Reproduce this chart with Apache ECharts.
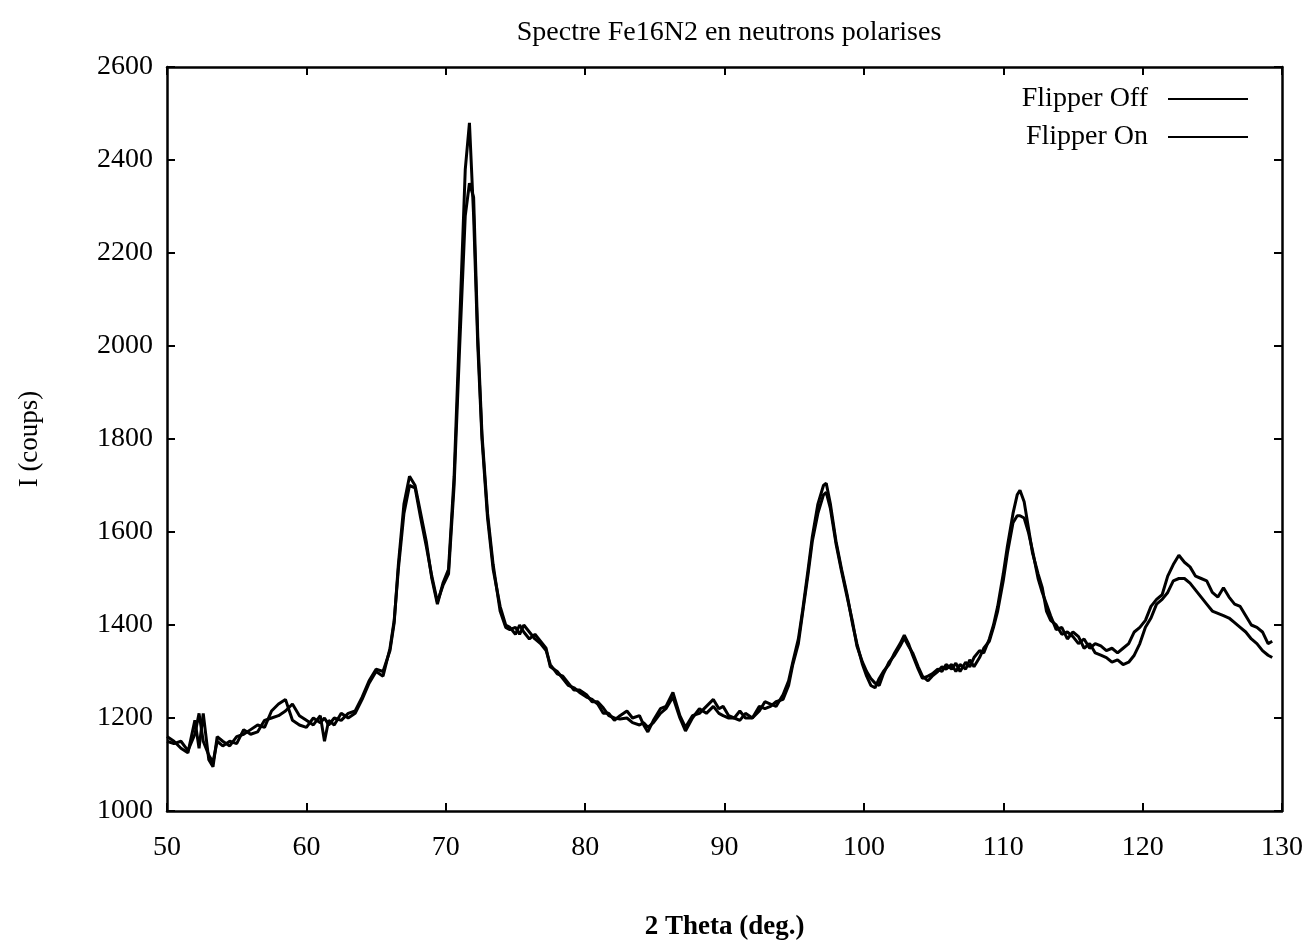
<!DOCTYPE html>
<html>
<head>
<meta charset="utf-8">
<script src="https://cdn.jsdelivr.net/npm/echarts@6/dist/echarts.min.js"></script>
<style>
html,body{margin:0;padding:0;background:#fff;}
#chart{width:1306px;height:941px;}
</style>
</head>
<body>
<div id="chart"></div>
<script>
// 2 Theta (deg.) sample positions
const theta = [
50.0,50.5,51.0,51.5,52.0,52.3,52.6,53.0,53.3,53.6,54.0,54.5,55.0,55.5,56.0,56.5,57.0,57.5,58.0,58.5,
59.0,59.5,60.0,60.5,61.0,61.3,61.6,62.0,62.5,63.0,63.5,64.0,64.5,65.0,65.5,66.0,66.3,66.6,67.0,67.4,
67.8,68.2,68.6,69.0,69.4,69.8,70.2,70.6,71.0,71.4,71.7,72.0,72.3,72.6,73.0,73.4,73.9,74.3,74.6,75.0,
75.3,75.6,76.0,76.4,76.8,77.2,77.5,78.0,78.4,78.8,79.2,79.6,80.1,80.5,80.9,81.3,81.7,82.1,82.5,83.0,
83.4,83.9,84.2,84.5,84.9,85.4,85.8,86.3,86.8,87.2,87.7,88.2,88.7,89.2,89.6,89.9,90.3,90.7,91.1,91.5,
92.0,92.5,92.9,93.3,93.7,94.2,94.6,94.9,95.3,95.6,96.0,96.3,96.7,97.1,97.3,97.6,98.0,98.4,98.8,99.2,
99.5,99.9,100.2,100.5,100.8,101.1,101.4,101.8,102.2,102.6,102.9,103.2,103.5,103.9,104.2,104.6,104.9,105.3,105.6,105.9,
106.3,106.6,106.9,107.3,107.6,107.9,108.3,108.6,109.0,109.3,109.6,110.0,110.3,110.7,111.0,111.2,111.5,111.8,112.1,112.5,
112.8,113.1,113.4,113.8,114.2,114.6,115.0,115.4,115.8,116.2,116.6,117.0,117.4,117.8,118.2,118.6,119.0,119.4,119.8,120.2,
120.6,121.0,121.4,121.8,122.2,122.6,123.0,123.4,123.8,124.2,124.6,125.0,125.4,125.8,126.2,126.6,127.0,127.4,127.8,128.2,
128.6,129.0,129.3
];
// I (coups), Flipper Off
const flipperOff = [
1160,1150,1135,1125,1195,1135,1210,1110,1095,1160,1150,1140,1160,1165,1175,1185,1180,1215,1230,1240,
1195,1185,1180,1200,1190,1200,1185,1200,1195,1210,1215,1245,1280,1305,1300,1345,1405,1530,1660,1720,
1700,1640,1580,1500,1445,1490,1520,1720,2050,2380,2480,2280,2000,1800,1630,1520,1440,1400,1395,1380,
1400,1385,1370,1380,1365,1350,1310,1300,1285,1270,1265,1255,1245,1240,1230,1210,1210,1195,1205,1215,
1200,1205,1185,1170,1195,1220,1225,1255,1205,1180,1205,1210,1225,1240,1220,1225,1205,1200,1215,1200,
1200,1215,1235,1230,1225,1250,1280,1320,1370,1430,1520,1590,1660,1700,1705,1660,1580,1520,1465,1400,
1360,1315,1290,1270,1265,1285,1300,1315,1340,1360,1378,1360,1335,1305,1285,1290,1295,1305,1300,1315,
1305,1318,1300,1320,1310,1330,1345,1340,1370,1400,1440,1510,1570,1640,1680,1690,1665,1610,1555,1510,
1480,1430,1410,1400,1380,1385,1375,1360,1370,1350,1360,1355,1345,1350,1340,1350,1360,1385,1395,1410,
1440,1455,1465,1505,1530,1550,1535,1525,1505,1500,1495,1470,1460,1480,1460,1445,1440,1420,1400,1395,
1385,1360,1365
];
// I (coups), Flipper On
const flipperOn = [
1150,1145,1150,1130,1165,1210,1150,1120,1105,1150,1140,1150,1145,1175,1165,1170,1195,1200,1205,1215,
1230,1205,1195,1185,1205,1150,1195,1185,1210,1200,1210,1240,1275,1300,1290,1350,1410,1520,1640,1700,
1695,1630,1570,1505,1450,1485,1510,1700,2000,2280,2350,2320,2020,1810,1640,1530,1430,1395,1390,1395,
1380,1400,1385,1370,1360,1345,1315,1295,1290,1275,1260,1260,1250,1235,1235,1222,1205,1200,1198,1200,
1190,1185,1190,1180,1190,1210,1220,1245,1200,1172,1200,1220,1210,1225,1210,1205,1200,1200,1195,1210,
1200,1225,1220,1225,1235,1240,1270,1315,1360,1425,1510,1580,1640,1680,1685,1650,1575,1515,1460,1405,
1355,1320,1300,1285,1275,1270,1295,1320,1335,1355,1372,1355,1340,1310,1290,1280,1290,1300,1310,1305,
1315,1300,1315,1305,1325,1310,1330,1350,1365,1395,1430,1495,1555,1620,1635,1635,1630,1600,1560,1500,
1470,1445,1420,1390,1395,1370,1385,1375,1350,1360,1340,1335,1330,1320,1325,1315,1320,1335,1360,1395,
1415,1445,1455,1470,1495,1500,1500,1490,1475,1460,1445,1430,1425,1420,1415,1405,1395,1385,1370,1360,
1345,1335,1330
];
const yTicks = [1000, 2600, 200];
const xTicks = [50, 130, 10];

const toPairs = (xs, ys) => xs.map((x, i) => [x, ys[i]]);
const FONT = 'Liberation Serif';
const chart = echarts.init(document.getElementById('chart'), null, {renderer: 'canvas'});
const tick = {show: true, inside: true, length: 8, lineStyle: {color: '#000', width: 2}};
const line = {show: true, onZero: false, lineStyle: {color: '#000', width: 2.5}};
chart.setOption({
  animation: false,
  backgroundColor: '#fff',
  title: {
    text: 'Spectre Fe16N2 en neutrons polarises',
    left: 724, top: 14, textAlign: 'center',
    textStyle: {fontFamily: FONT, fontSize: 28, fontWeight: 'normal', color: '#000'}
  },
  legend: {
    orient: 'vertical', align: 'right', right: 53, top: 80,
    icon: 'rect', itemWidth: 80, itemHeight: 2, itemGap: 10,
    textStyle: {fontFamily: FONT, fontSize: 28, color: '#000', padding: [0, 15, 0, 0]},
    data: ['Flipper Off', 'Flipper On']
  },
  grid: {left: 167, right: 24, top: 67, bottom: 130, outerBoundsMode: 'none', containLabel: false},
  xAxis: [{
    type: 'value', min: xTicks[0], max: xTicks[1], interval: xTicks[2],
    axisLine: line, axisTick: tick, splitLine: {show: false},
    axisLabel: {fontFamily: FONT, fontSize: 28, color: '#000', margin: 23},
    name: '2 Theta (deg.)', nameLocation: 'middle', nameGap: 103,
    nameTextStyle: {fontFamily: FONT, fontSize: 27, fontWeight: 'bold', color: '#000'}
  }, {
    type: 'value', position: 'top', min: xTicks[0], max: xTicks[1], interval: xTicks[2],
    axisLine: line, axisTick: tick, axisLabel: {show: false}, splitLine: {show: false}
  }],
  yAxis: [{
    type: 'value', min: yTicks[0], max: yTicks[1], interval: yTicks[2],
    axisLine: line, axisTick: tick, splitLine: {show: false},
    axisLabel: {fontFamily: FONT, fontSize: 28, color: '#000', margin: 14, formatter: v => String(v)},
    name: 'I (coups)', nameLocation: 'middle', nameGap: 124, nameRotate: 90,
    nameTextStyle: {fontFamily: FONT, fontSize: 27, color: '#000'}
  }, {
    type: 'value', position: 'right', min: yTicks[0], max: yTicks[1], interval: yTicks[2],
    axisLine: line, axisTick: tick, axisLabel: {show: false}, splitLine: {show: false}
  }],
  series: [{
    name: 'Flipper Off', type: 'line', data: toPairs(theta, flipperOff),
    showSymbol: false, symbol: 'none', xAxisIndex: 0, yAxisIndex: 0,
    lineStyle: {color: '#000', width: 3}, itemStyle: {color: '#000'}
  }, {
    name: 'Flipper On', type: 'line', data: toPairs(theta, flipperOn),
    showSymbol: false, symbol: 'none', xAxisIndex: 0, yAxisIndex: 0,
    lineStyle: {color: '#000', width: 3}, itemStyle: {color: '#000'}
  }]
});
</script>
</body>
</html>
